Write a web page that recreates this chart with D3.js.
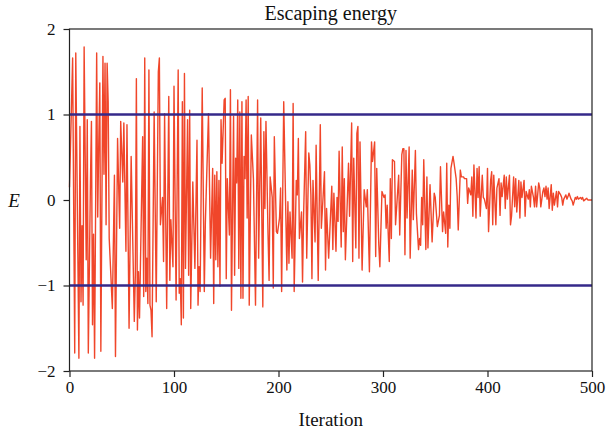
<!DOCTYPE html>
<html>
<head>
<meta charset="utf-8">
<script src="https://cdn.jsdelivr.net/npm/d3@7/dist/d3.min.js"></script>
<style>
  html, body { margin: 0; padding: 0; background: #fff; }
  svg { display: block; }
</style>
</head>
<body>
<svg id="chart"></svg>
<script>
// [iteration, E]
var energy = [
    [0,0.15],[3,1.66],[5,-1.79],[6,1.72],[9,-1.85],[10,0.86],[11,-1.19],[12,-0.3],[13,-1.23],[14,1.79],[16,-0.70],[17,0.94],[18,-1.79],[20,0.18],[21,0.92],[22,-1.46],[23,-0.4],[24,-1.85],[26,1.72],[27,-0.2],[28,0.66],[29,1.37],[30,-1.77],[32,1.68],[33,0.3],[34,1.6],[35,-0.29],[36,1.6],[37,1.15],[38,-0.45],[41,-1.27],[43,0.29],
    [44,-1.83],[46,0.72],[48,-0.33],[49,0.92],[51,0.21],[52,0.9],[54,-0.6],[55,0.88],[57,-1.5],[59,0.51],[62,-1.42],[63,-0.88],[64,1.42],[65,-1.52],[66,-0.84],[67,-1.38],[70,0.74],[71,-1.13],[72,1.66],[73,-1.07],[74,-0.68],[75,-1.21],[76,1.52],[77,-1.23],[78,-1.29],[79,-1.6],[81,1.03],[83,-1.19],[85,1.5],[86,1.66],[87,-0.29],[89,0.03],[90,-0.72],
    [91,1.01],[93,-1.27],[95,1.21],[96,-0.94],[97,-0.23],[99,-0.78],[100,1.33],[102,-1.17],[104,1.52],[105,-1.09],[106,-0.92],[107,-1.46],[108,1.15],[109,-1.38],[110,1.48],[111,-0.8],[113,0.94],[114,-0.88],[115,1.05],[116,-1.27],[118,0.21],[120,-0.8],[122,0.7],[123,-1.23],[124,-0.78],[125,-1.07],[127,1.31],[129,-1.07],[130,-0.27],[133,1.01],[135,-0.68],
    [137,0.37],[138,-1.21],[139,0.29],[140,-0.7],[141,0.33],[142,-0.78],[143,0.23],[144,-1.01],[145,0.94],[146,0.43],[148,1.17],[149,1.19],[150,-0.92],[151,0.25],[153,-0.41],[154,1.29],[155,-1.29],[157,0.98],[158,-0.88],[159,0.49],[160,0.2],[161,1.17],[162,-0.8],[163,1.03],[164,-1.15],[165,1.15],[166,-1.15],[167,0.51],[168,0.25],[169,1.17],[170,-0.21],[171,1.21],[172,-1.23],[174,0.76],[176,0.25],[178,-1.23],[180,1.17],
    [181,-0.68],[183,0.96],[185,-1.25],[186,0.8],[187,-0.1],[188,0.92],[190,-0.41],[191,-0.94],[192,0.27],[194,0.03],[195,-1.03],[196,0.74],[198,-0.37],[199,-0.39],[201,-0.21],[202,0.14],[203,-1.07],[205,1.15],[208,-0.82],[209,-0.02],[210,-0.74],[211,-0.14],[213,-0.68],[214,1.13],[215,-1.07],[217,0.23],[218,0.06],[219,0.72],[220,-0.45],[222,-0.14],[223,-0.96],[224,-0.18],[226,0.8],
    [227,-0.68],[229,0.55],[230,0.41],[231,0.06],[232,-0.92],[233,0.23],[235,-0.49],[236,0.64],[238,-0.94],[240,0.88],[241,-0.33],[244,0.33],[245,-0.82],[246,-0.1],[248,-0.68],[251,0.16],[252,-0.58],[253,0.08],[255,-0.6],[256,0.03],[257,-0.25],[258,0.57],[260,-0.55],[261,0.62],[262,-0.37],[263,0.25],[264,-0.7],[267,0.43],[268,-0.19],[270,0.9],[271,-0.72],[272,0.49],
    [274,-0.56],[275,0.78],[276,0.86],[277,-0.68],[278,0.68],[280,-0.82],[282,0.12],[284,-0.08],[285,0.12],[287,-0.84],[289,0.68],[290,0.45],[292,0.68],[293,-0.66],[294,0.37],[296,-0.53],[297,-0.78],[299,0.1],[301,0.03],[302,0.06],[303,-0.33],[304,-0.06],[306,-0.72],[307,0.25],[308,-0.45],[309,0.47],[311,0.45],[312,-0.29],[313,-0.1],[315,0.29],[316,-0.41],[318,0.53],
    [319,0.6],[320,0.6],[321,-0.64],[322,0.58],[323,-0.21],[325,0.62],[326,-0.68],[328,0.35],[329,-0.23],[331,0.58],[332,-0.16],[334,-0.58],[335,-0.45],[336,-0.53],[337,0.03],[338,-0.29],[339,0.47],[341,-0.58],[342,0.27],[343,-0.56],[345,0.18],[347,-0.49],[349,0.08],[350,0.03],[352,-0.31],[354,-0.18],[355,0.39],[357,-0.37],[358,-0.14],[360,-0.39],[361,0.43],[362,-0.55],[363,-0.06],[364,-0.33],[365,0.37],[367,0.51],
    [368,0.43],[370,0.25],[371,0.04],[372,-0.35],[374,0.35],[375,0.27],[377,0.27],[378,0.25],[380,0.25],[381,-0.04],[382,0.14],[384,0.06],[385,0.27],[386,-0.19],[387,0.41],[389,-0.21],[390,0.37],[391,0.03],[392,0.39],[393,-0.19],[395,0.29],[396,0.03],[397,0.01],[399,-0.1],[400,0.37],[401,-0.37],[403,0.23],[404,0.33],[405,-0.29],[406,0.29],[408,-0.29],[409,0.14],
    [411,0.25],[412,-0.18],[413,0.2],[414,0.04],[416,0.29],[417,-0.1],[418,0.27],[419,0.01],[421,0.29],[422,-0.29],[423,-0.19],[425,0.27],[426,-0.08],[427,0.25],[428,-0.14],[430,0.23],[431,-0.21],[432,0.21],[433,0.03],[435,0.23],[436,-0.19],[437,0.1],[439,0.01],[440,0.12],[441,-0.08],[442,0.16],[444,0.03],[445,-0.08],[446,0.16],[447,-0.08],[449,0.2],[450,0.14],[451,-0.08],[453,0.1],[454,0.14],[455,0.04],
    [456,0.16],[457,0.01],[458,0.14],[459,-0.1],[461,0.18],[462,-0.12],[463,0.08],[464,-0.06],[466,0.1],[467,-0.08],[468,0.1],[470,0.06],[471,0.03],[472,-0.06],[473,0.01],[475,0.06],[476,0.01],[477,0.04],[478,0.08],[480,0.01],[481,-0.01],[482,-0.06],[484,0.03],[485,0.01],[486,0.04],[487,0.01],[489,0.03],[490,0.01],[491,0.03],[492,-0.01],[494,0.01],[495,0.02],[496,0],[498,0],[500,0]
];

// the two threshold lines |E| = 1
var thresholds = [1, -1];

var xTicks = [0, 100, 200, 300, 400, 500];
var yTicks = [-2, -1, 0, 1, 2];

var width = 608,
    height = 437;
var margin = {top: 29, right: 16, bottom: 66, left: 69.5};

var svg = d3.select("#chart")
    .attr("width", width)
    .attr("height", height);

var x = d3.scaleLinear()
    .domain([0, 500])
    .range([margin.left, width - margin.right]);

var y = d3.scaleLinear()
    .domain([-2, 2])
    .range([height - margin.bottom, margin.top]);

var serif = "'Liberation Serif', 'DejaVu Serif', serif";

/*
 * Energy curve.
 */
var line = d3.line()
    .x(function(d) { return x(d[0]); })
    .y(function(d) { return y(d[1]); });

svg.append("path")
    .datum(energy)
    .attr("fill", "none")
    .attr("stroke", "#f0462a")
    .attr("stroke-width", 1.4)
    .attr("stroke-linejoin", "round")
    .attr("d", line);

/*
 * Threshold lines.
 */
svg.selectAll()
    .data(thresholds)
    .enter()
    .append("line")
    .attr("x1", x(0))
    .attr("x2", x(500))
    .attr("y1", function(d) { return y(d); })
    .attr("y2", function(d) { return y(d); })
    .attr("stroke", "#35298a")
    .attr("stroke-width", 2.5);

/*
 * Axes and frame.
 */
var xAxis = svg.append("g")
    .attr("transform", "translate(0," + y(-2) + ")")
    .call(d3.axisBottom(x).tickValues(xTicks).tickSize(6).tickPadding(4)
          .tickFormat(d3.format("d")));

var yAxis = svg.append("g")
    .attr("transform", "translate(" + x(0) + ",0)")
    .call(d3.axisLeft(y).tickValues(yTicks).tickSize(6).tickPadding(8)
          .tickFormat(function(d) { return d < 0 ? "\u2212" + Math.abs(d) : d; }));

[xAxis, yAxis].forEach(function(g) {
    g.select(".domain").remove();
    g.selectAll("line").attr("stroke", "#222").attr("stroke-width", 1.2);
    g.selectAll("text")
        .attr("fill", "#111")
        .attr("font-family", serif)
        .attr("font-size", "17px");
});

svg.append("rect")
    .attr("x", x(0))
    .attr("y", y(2))
    .attr("width", x(500) - x(0))
    .attr("height", y(-2) - y(2))
    .attr("fill", "none")
    .attr("stroke", "#222")
    .attr("stroke-width", 1.2);

/*
 * Labels.
 */
svg.append("text")
    .attr("x", (x(0) + x(500)) / 2)
    .attr("y", 20)
    .attr("text-anchor", "middle")
    .attr("font-family", serif)
    .attr("font-size", "20px")
    .attr("fill", "#111")
    .text("Escaping energy");

svg.append("text")
    .attr("x", (x(0) + x(500)) / 2)
    .attr("y", 426)
    .attr("text-anchor", "middle")
    .attr("font-family", serif)
    .attr("font-size", "19px")
    .attr("fill", "#111")
    .text("Iteration");

svg.append("text")
    .attr("x", 14)
    .attr("y", y(0))
    .attr("dy", "0.35em")
    .attr("text-anchor", "middle")
    .attr("font-family", serif)
    .attr("font-style", "italic")
    .attr("font-size", "19px")
    .attr("fill", "#111")
    .text("E");
</script>
</body>
</html>
